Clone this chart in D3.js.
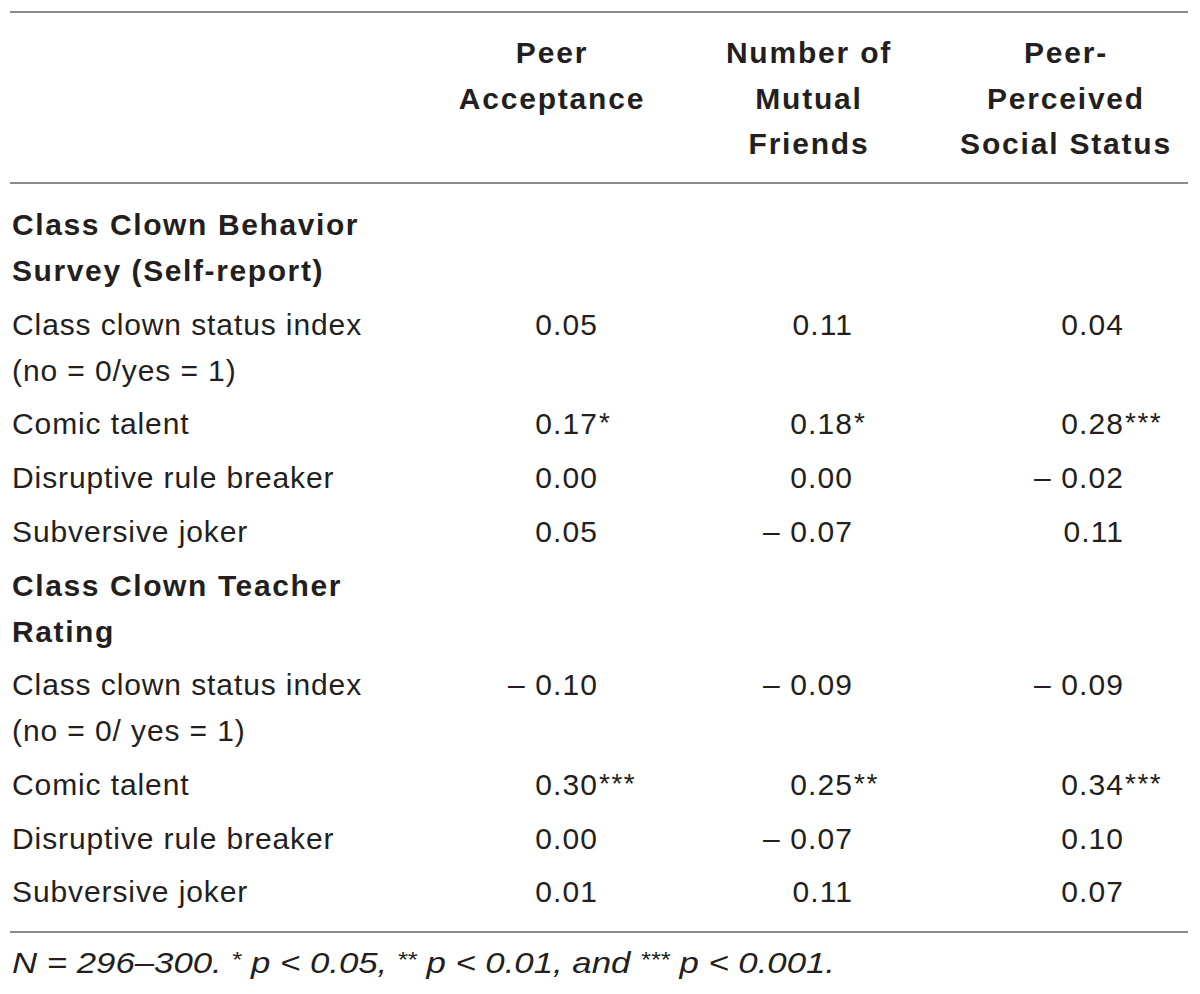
<!DOCTYPE html>
<html>
<head>
<meta charset="utf-8">
<script src="https://cdn.jsdelivr.net/npm/d3@7"></script>
<style>
  body { margin: 0; background: #fff; }
  svg text { font-family: "Liberation Sans", Arial, sans-serif; fill: #231f20; }
</style>
</head>
<body>
<div id="Table"></div>
<script>
// table content
var columns = ["Peer Acceptance", "Number of Mutual Friends", "Peer-Perceived Social Status"];
var headerLines = [["Peer", "Acceptance"], ["Number of", "Mutual", "Friends"], ["Peer-", "Perceived", "Social Status"]];

var sections = [["Class Clown Behavior", "Survey (Self-report)"], ["Class Clown Teacher", "Rating"]];

var selfLabels = [["Class clown status index", "(no = 0/yes = 1)"], ["Comic talent"], ["Disruptive rule breaker"], ["Subversive joker"]];
var selfValues = [[0.05, 0.11, 0.04], [0.17, 0.18, 0.28], [0.00, 0.00, -0.02], [0.05, -0.07, 0.11]];
var selfStars  = [["", "", ""], ["*", "*", "***"], ["", "", ""], ["", "", ""]];

var teacherLabels = [["Class clown status index", "(no = 0/ yes = 1)"], ["Comic talent"], ["Disruptive rule breaker"], ["Subversive joker"]];
var teacherValues = [[-0.10, -0.09, -0.09], [0.30, 0.25, 0.34], [0.00, -0.07, 0.10], [0.01, 0.11, 0.07]];
var teacherStars  = [["", "", ""], ["***", "**", "***"], ["", "", ""], ["", "", ""]];

var footnote = [
  {t: "N = 296\u2013300. ", sup: false},
  {t: "*", sup: true}, {t: " p < 0.05, ", sup: false},
  {t: "**", sup: true}, {t: " p < 0.01, and ", sup: false},
  {t: "***", sup: true}, {t: " p < 0.001.", sup: false}
];

var W = 1200, H = 994;
var svg = d3.select("#Table").append("svg")
    .attr("width", W)
    .attr("height", H);

// column positions: header centres and right edge of numbers
var xHead = d3.scaleOrdinal().domain(columns).range([552, 809, 1066]);
var xNum = d3.scaleOrdinal().domain(columns).range([598, 853, 1124]);

var rule = function(y) {
  svg.append("line")
    .attr("x1", 10).attr("x2", 1188)
    .attr("y1", y).attr("y2", y)
    .attr("stroke", "#8a8a8a")
    .attr("stroke-width", 2);
};
rule(12);
rule(183);
rule(932);

// header
var head = svg.selectAll(".head")
  .data(columns)
  .enter().append("g")
  .attr("class", "head");
head.selectAll("text")
  .data(function(d, i) { return headerLines[i].map(function(s) { return {col: d, s: s}; }); })
  .enter().append("text")
  .attr("x", function(d) { return xHead(d.col); })
  .attr("y", function(d, j) { return 63 + j * 45.5; })
  .style("text-anchor", "middle")
  .style("font-weight", "bold")
  .style("font-size", "30px")
  .style("letter-spacing", "1.8px")
  .text(function(d) { return d.s; });

// body rows laid out line by line
var rowStep = 53.7, lineStep = 46;
var y = 235 - rowStep;
var lines = [];
var blocks = [
  {title: sections[0], labels: selfLabels, values: selfValues, stars: selfStars},
  {title: sections[1], labels: teacherLabels, values: teacherValues, stars: teacherStars}
];
blocks.forEach(function(b) {
  y += rowStep;
  b.title.forEach(function(s, j) {
    lines.push({kind: "title", text: s, y: y + j * lineStep});
  });
  y += (b.title.length - 1) * lineStep;
  b.labels.forEach(function(lab, r) {
    y += rowStep;
    lab.forEach(function(s, j) {
      lines.push({kind: "label", text: s, y: y + j * lineStep});
    });
    b.values[r].forEach(function(v, c) {
      lines.push({kind: "value", v: v, star: b.stars[r][c], col: columns[c], y: y});
    });
    y += (lab.length - 1) * lineStep;
  });
});

svg.selectAll(".lab")
  .data(lines.filter(function(d) { return d.kind != "value"; }))
  .enter().append("text")
  .attr("class", "lab")
  .attr("x", 12)
  .attr("y", function(d) { return d.y; })
  .style("font-size", "30px")
  .style("font-weight", function(d) { return d.kind == "title" ? "bold" : "normal"; })
  .style("letter-spacing", function(d) { return d.kind == "title" ? "1.6px" : "0.9px"; })
  .text(function(d) { return d.text; });

var fmt = d3.format(".2f");
var cells = svg.selectAll(".cell")
  .data(lines.filter(function(d) { return d.kind == "value"; }))
  .enter().append("g")
  .attr("class", "cell");
cells.append("text")
  .attr("x", function(d) { return xNum(d.col); })
  .attr("y", function(d) { return d.y; })
  .style("text-anchor", "end")
  .style("font-size", "30px")
  .style("letter-spacing", "1.1px")
  .text(function(d) { return d.v < 0 ? "\u2013 " + fmt(-d.v) : fmt(d.v); });
cells.append("text")
  .attr("x", function(d) { return xNum(d.col) + 1; })
  .attr("y", function(d) { return d.y - 2; })
  .style("font-size", "28px")
  .style("letter-spacing", "1.5px")
  .text(function(d) { return d.star; });

// footnote
var fn = svg.append("text")
  .attr("x", 12)
  .attr("y", 973)
  .style("font-size", "30px")
  .style("font-style", "italic");
fn.selectAll("tspan")
  .data(footnote)
  .enter().append("tspan")
  .attr("dy", function(d, i) {
    var prev = i > 0 && footnote[i - 1].sup;
    if (d.sup && !prev) return -6;
    if (!d.sup && prev) return 6;
    return 0;
  })
  .style("font-size", function(d) { return d.sup ? "22px" : "30px"; })
  .text(function(d) { return d.t; });
fn.attr("textLength", 823).attr("lengthAdjust", "spacingAndGlyphs");
</script>
</body>
</html>
